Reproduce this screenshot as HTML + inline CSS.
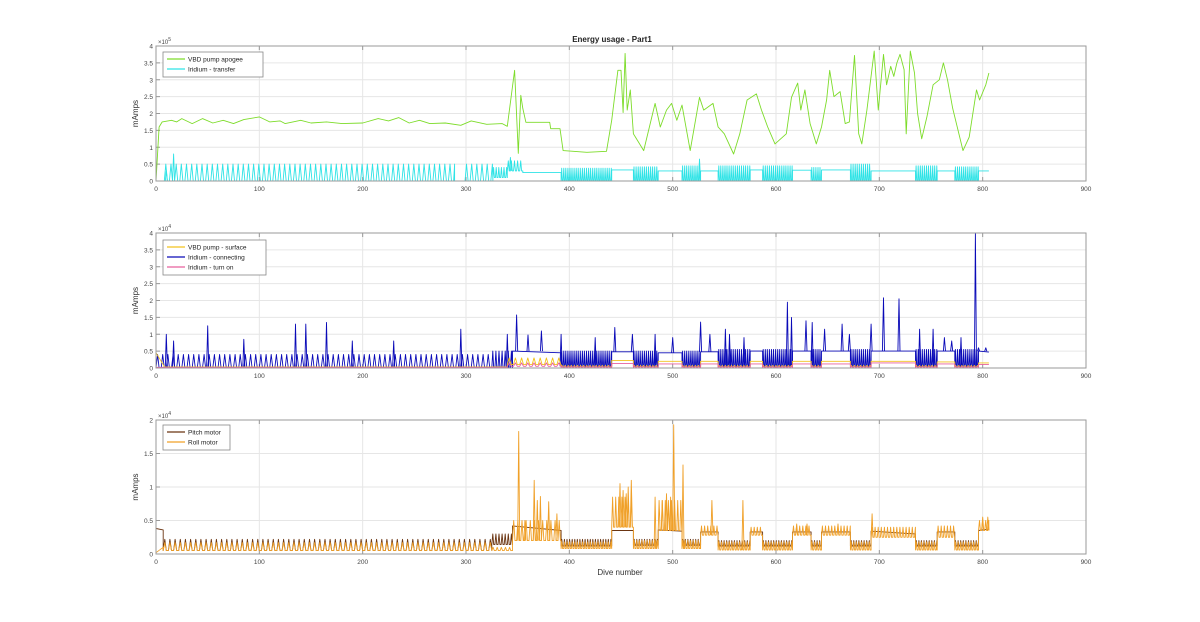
<!DOCTYPE html>
<html><head><meta charset="utf-8"><style>
html,body{margin:0;padding:0;background:#fff;}
svg{display:block;font-family:"Liberation Sans",sans-serif;}
</style></head><body>
<svg id="fig" width="1200" height="622" viewBox="0 0 1200 622" xmlns="http://www.w3.org/2000/svg">
<text x="612" y="42" text-anchor="middle" font-size="8" font-weight="bold" fill="#222">Energy usage - Part1</text>
<text x="620" y="575" text-anchor="middle" font-size="8" fill="#333">Dive number</text>
</svg>
<script>
// ---- shared axes ----
const xTicks=[0,100,200,300,400,500,600,700,800,900];
const topTicks=[0,0.5,1,1.5,2,2.5,3,3.5,4];
const midTicks=[0,0.5,1,1.5,2,2.5,3,3.5,4];
const botTicks=[0,0.5,1,1.5,2];
const endDive=806;
// ---- top: VBD pump apogee (x1e5) ----
const greenDives=[0,3,6,15,20,25,35,45,55,65,75,85,100,110,120,125,140,150,165,180,200,215,225,235,245,255,265,280,295,305,320,335,340,347,350.6,353,355,358,381,382,391,394,417,436,441,447,450,452,454,456,459,462,472,483,488,494,499,504,509,517,526,530,539,544,550,559,565,572,581,586,592,599,610,615,621,624,628,633,639,644,649,652,656,662,667,671,676,680,683,688,695,699,704,707,711,714,717,720,724,726,730,734,737,741,746,752,758,762,766,771,781,787,794,797,803,806];
const greenVals=[0,1.6,1.75,1.8,1.75,1.85,1.7,1.85,1.72,1.8,1.7,1.82,1.9,1.75,1.78,1.7,1.8,1.72,1.75,1.7,1.72,1.85,1.78,1.88,1.72,1.8,1.7,1.72,1.65,1.78,1.68,1.7,1.62,3.28,0.82,2.54,2.15,1.74,1.74,1.55,1.55,0.9,0.85,0.88,1.8,3.28,3.28,2.03,3.78,2.1,2.7,1.4,0.9,2.3,1.6,2.1,2.3,1.8,2.25,0.9,2.48,2.1,2.3,1.6,1.4,0.8,1.4,2.4,2.58,2.1,1.6,1.1,1.4,2.48,2.9,2.1,2.7,1.7,1.1,1.6,2.4,3.28,2.5,2.65,1.7,1.75,3.72,1.4,1.1,2.1,3.85,2.1,3.75,2.85,3.4,3.1,3.5,3.75,3.3,1.4,3.85,3.2,2.0,1.25,1.9,2.85,3.0,3.5,3.0,2.15,0.9,1.3,2.7,2.4,2.85,3.2];
// ---- section arrays: [start dive, low, high, period(0=flat)] ----
const cyanSections=[[0,0,0,0],[8,0,0.5,5],[289,0,0,0],[299,0,0.5,5],[326,0.1,0.4,2.5],[340,0.3,0.6,3],[355,0.25,0.25,0],[392,0,0.38,2],[441,0.33,0.33,0],[462,0,0.42,2],[486,0.3,0.3,0],[509,0,0.45,2],[527,0.3,0.3,0],[544,0,0.45,2],[575,0.33,0.33,0],[587,0,0.45,2],[616,0.32,0.32,0],[634,0,0.4,2],[644,0.33,0.33,0],[672,0,0.5,2],[692,0.3,0.3,0],[735,0,0.45,2],[756,0.3,0.3,0],[773,0,0.42,2],[796,0.3,0.3,0]];
const cyanSpikeDives=[10,17,343,526];
const cyanSpikeVals=[0.3,0.8,0.7,0.65];
// ---- middle (x1e4) ----
const blueSections=[[0,0,0.4,5],[325,0,0.5,3],[345,0.5,0.45,0],[392,0.05,0.5,2],[441,0.48,0.48,0],[462,0.05,0.5,2],[486,0.45,0.45,0],[509,0.05,0.5,2],[527,0.48,0.48,0],[544,0.05,0.55,2],[575,0.5,0.5,0],[587,0.05,0.55,2],[616,0.5,0.5,0],[634,0.05,0.55,2],[644,0.5,0.5,0],[672,0.05,0.55,2],[692,0.5,0.5,0],[735,0.05,0.55,2],[756,0.5,0.5,0],[773,0.05,0.55,2],[796,0.5,0.47,0]];
const blueSpikeDives=[10,17,50,85,135,145,165,190,230,295,340,349,360,373,392,425,444,461,483,500,527,536,551,555,569,611,615,629,635,647,664,671,692,704,719,739,752,763,770,779,793,796,803];
const blueSpikeVals=[1.0,0.8,1.25,0.85,1.3,1.3,1.35,0.8,0.8,1.15,1.0,1.57,0.98,1.1,1.0,0.9,1.2,1.0,1.0,0.9,1.36,1.0,1.15,1.0,0.9,1.95,1.5,1.4,1.35,1.15,1.3,1.0,1.3,2.08,2.05,1.15,1.15,0.9,0.8,0.9,4.0,0.6,0.6];
const yellowSections=[[0,0.45,0.05,0],[8,0.03,0.03,0],[340,0.1,0.3,6],[392,0.03,0.08,3],[441,0.22,0.22,0],[462,0.03,0.08,3],[486,0.2,0.2,0],[509,0.03,0.08,3],[527,0.2,0.2,0],[544,0.03,0.08,3],[575,0.2,0.2,0],[587,0.03,0.08,3],[616,0.2,0.2,0],[634,0.03,0.08,3],[644,0.2,0.2,0],[672,0.03,0.08,3],[692,0.2,0.2,0],[735,0.03,0.08,3],[756,0.18,0.18,0],[773,0.03,0.08,3],[796,0.15,0.15,0]];
const pinkSections=[[0,0.02,0.02,0],[340,0.05,0.15,6],[392,0.02,0.05,3],[441,0.13,0.13,0],[462,0.02,0.05,3],[486,0.12,0.12,0],[509,0.02,0.05,3],[527,0.12,0.12,0],[544,0.02,0.05,3],[575,0.12,0.12,0],[587,0.02,0.05,3],[616,0.12,0.12,0],[634,0.02,0.05,3],[644,0.12,0.12,0],[672,0.02,0.05,3],[692,0.15,0.15,0],[735,0.02,0.05,3],[756,0.12,0.12,0],[773,0.02,0.05,3],[796,0.1,0.1,0]];
// ---- bottom (x1e4) ----
const pitchSections=[[0,0.38,0.36,0],[7,0.05,0.22,5],[325,0.14,0.3,3],[345,0.42,0.35,0],[392,0.12,0.22,2.5],[441,0.35,0.35,0],[462,0.13,0.22,2.5],[486,0.36,0.34,0],[509,0.13,0.22,2.5],[527,0.33,0.33,0],[544,0.12,0.2,2.5],[575,0.33,0.33,0],[587,0.12,0.2,2.5],[616,0.33,0.33,0],[634,0.12,0.2,2.5],[644,0.33,0.33,0],[672,0.12,0.2,2.5],[692,0.34,0.3,0],[735,0.12,0.2,2.5],[756,0.33,0.33,0],[773,0.12,0.2,2.5],[796,0.35,0.37,0]];
const rollSections=[[0,0.02,0.1,0],[7,0.05,0.17,5],[325,0.05,0.1,4],[345,0.2,0.5,4],[392,0.08,0.18,2.5],[441,0.4,0.85,3],[462,0.08,0.2,2.5],[486,0.35,0.8,3],[509,0.08,0.2,2.5],[527,0.28,0.42,3],[544,0.06,0.18,2.5],[575,0.28,0.4,3],[587,0.06,0.18,2.5],[616,0.28,0.42,3],[634,0.06,0.18,2.5],[644,0.28,0.42,3],[672,0.06,0.18,2.5],[692,0.25,0.4,3],[735,0.06,0.18,2.5],[756,0.25,0.42,3],[773,0.06,0.18,2.5],[796,0.35,0.5,3]];
const rollSpikeDives=[351,357,366,369,372,380,388,449,452,455,457,460,483,490,494,498,501,510,538,568,620,630,660,693,800,805];
const rollSpikeVals=[1.83,0.5,1.1,0.8,0.86,0.78,0.6,1.05,0.95,0.9,1.0,1.1,0.85,0.8,0.9,0.85,1.93,1.33,0.8,0.8,0.45,0.45,0.45,0.6,0.55,0.55];

const NS="http://www.w3.org/2000/svg";
const svg=document.getElementById('fig');
const L=156,R=1086;
function xs(d){return L+(d/900)*(R-L);}
function mk(tag,attrs,parent){const e=document.createElementNS(NS,tag);for(const k in attrs)e.setAttribute(k,attrs[k]);(parent||svg).appendChild(e);return e;}

function makeAxes(name,top,bot,yTicks,yMax,exp){
  const g=mk('g',{});
  
  
  const ys=v=>bot-(v/yMax)*(bot-top);
  mk('rect',{x:L,y:top,width:R-L,height:bot-top,fill:'#fff'},g);
  xTicks.forEach(t=>{
    const l=mk('line',{x1:xs(t),x2:xs(t),y1:top,y2:bot,stroke:'#e6e6e6','stroke-width':1},g);
    
    
    mk('line',{x1:xs(t),x2:xs(t),y1:bot,y2:bot-4,stroke:'#999'},g);
    mk('line',{x1:xs(t),x2:xs(t),y1:top,y2:top+4,stroke:'#999'},g);
    const tx=mk('text',{x:xs(t),y:bot+10,'text-anchor':'middle','font-size':6.5,fill:'#444'},g);
    tx.textContent=t;
    
    
  });
  yTicks.forEach(t=>{
    const l=mk('line',{x1:L,x2:R,y1:ys(t),y2:ys(t),stroke:'#e6e6e6','stroke-width':1},g);
    
    
    mk('line',{x1:L,x2:L+4,y1:ys(t),y2:ys(t),stroke:'#999'},g);
    const tx=mk('text',{x:L-3,y:ys(t)+2.5,'text-anchor':'end','font-size':6.5,fill:'#444'},g);
    tx.textContent=t;
    
    
  });
  const ex=mk('text',{x:L+2,y:top-2,'font-size':6,fill:'#444'},g);
  ex.innerHTML='×10<tspan dy="-3" font-size="5">'+exp+'</tspan>';
  
  
  const yl=mk('text',{x:0,y:0,'text-anchor':'middle','font-size':8,fill:'#333',transform:`translate(138,${(top+bot)/2}) rotate(-90)`},g);
  yl.textContent='mAmps';
  
  
  return {g,ys,top,bot};
}
function sectionPoints(secs){
  const pts=[];
  for(let i=0;i<secs.length;i++){
    const [s,lo,hi,p]=secs[i];
    const e=i+1<secs.length?secs[i+1][0]:endDive;
    if(!p){pts.push([s,lo],[e,hi]);}
    else{
      for(let t=s;t<e;t+=p){
        pts.push([t,lo],[Math.min(t+p*0.3,e),hi],[Math.min(t+p*0.6,e),lo]);
      }
      pts.push([e,lo]);
    }
  }
  return pts;
}
function baseAt(secs,d){
  for(let i=secs.length-1;i>=0;i--) if(d>=secs[i][0]) return secs[i][1];
  return 0;
}
function drawLine(ax,pts,color,name,w){
  const p=mk('polyline',{points:pts.map(q=>xs(q[0]).toFixed(1)+','+ax.ys(q[1]).toFixed(1)).join(' '),fill:'none',stroke:color,'stroke-width':w||0.9,'stroke-linejoin':'round'},ax.g);
  
  
}
function drawSpikes(ax,secs,dives,vals,color,name){
  dives.forEach((d,i)=>{
    const b=baseAt(secs,d);
    drawLine(ax,[[d-1,b],[d,vals[i]],[d+1,b]],color,name);
  });
}
function frame(ax){
  const r=mk('rect',{x:L,y:ax.top,width:R-L,height:ax.bot-ax.top,fill:'none',stroke:'#9a9a9a','stroke-width':1},ax.g);
  
  
}
function legend(ax,x,y,w,items){
  const g=mk('g',{},ax.g);
  
  
  mk('rect',{x:x,y:y,width:w,height:items.length*10+5,fill:'#fff',stroke:'#888','stroke-width':0.8},g);
  items.forEach((it,i)=>{
    const e=mk('g',{},g);
    
    
    const yy=y+7+i*10;
    mk('line',{x1:x+4,x2:x+22,y1:yy,y2:yy,stroke:it[1],'stroke-width':1.3},e);
    const t=mk('text',{x:x+25,y:yy+2.5,'font-size':6.5,fill:'#222'},e);
    t.textContent=it[0];
  });
}

// top
const a1=makeAxes('top-axes',46,181,topTicks,4,5);
drawLine(a1,greenDives.map((d,i)=>[d,greenVals[i]]),'#7ddc2a','vbd-pump-apogee-line');
drawLine(a1,sectionPoints(cyanSections),'#2ee3e6','iridium-transfer-line');
drawSpikes(a1,cyanSections,cyanSpikeDives,cyanSpikeVals,'#2ee3e6','iridium-transfer-spike');
frame(a1);
legend(a1,163,52,100,[['VBD pump apogee','#7ddc2a'],['Iridium - transfer','#2ee3e6']]);

// middle
const a2=makeAxes('middle-axes',233,368,midTicks,4,4);
drawLine(a2,sectionPoints(blueSections),'#0a0ab8','iridium-connecting-line');
drawSpikes(a2,blueSections,blueSpikeDives,blueSpikeVals,'#0a0ab8','iridium-connecting-spike');
drawLine(a2,sectionPoints(yellowSections),'#f2c21e','vbd-pump-surface-line');
drawLine(a2,sectionPoints(pinkSections),'#e8609e','iridium-turn-on-line');
frame(a2);
legend(a2,163,240,103,[['VBD pump - surface','#f2c21e'],['Iridium - connecting','#0a0ab8'],['Iridium - turn on','#e8609e']]);

// bottom
const a3=makeAxes('bottom-axes',420,554,botTicks,2,4);
drawLine(a3,sectionPoints(pitchSections),'#6b3512','pitch-motor-line');
drawLine(a3,sectionPoints(rollSections),'#f0a028','roll-motor-line');
drawSpikes(a3,rollSections,rollSpikeDives,rollSpikeVals,'#f0a028','roll-motor-spike');
frame(a3);
legend(a3,163,425,67,[['Pitch motor','#6b3512'],['Roll motor','#f0a028']]);
</script>
</body></html>
